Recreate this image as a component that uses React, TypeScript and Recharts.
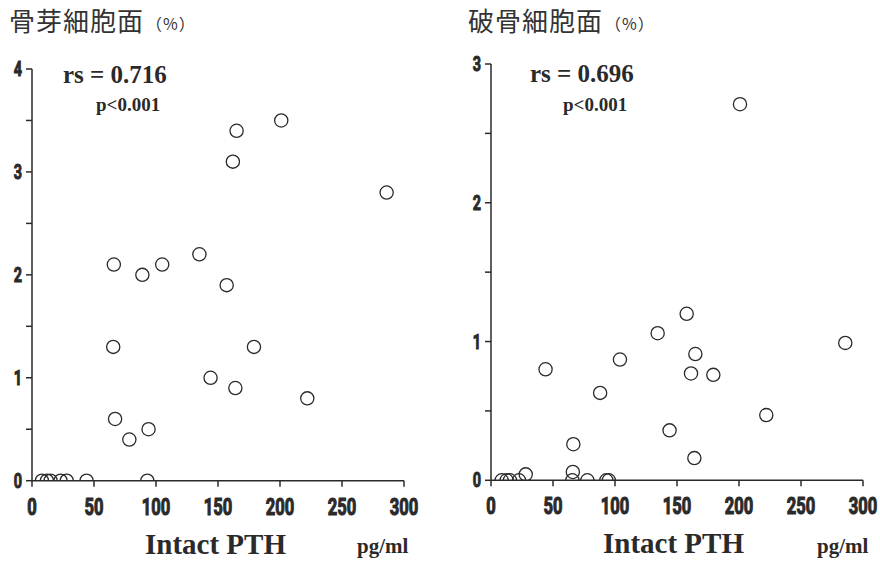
import React from "react";
import { ScatterChart, Scatter, XAxis, YAxis } from "recharts";

// Left panel: osteoblast surface (%) vs intact PTH (pg/ml)
const obX = [8, 12, 15, 23, 28, 44, 93, 66, 65.5, 67, 78.5, 94, 89, 105, 135, 157, 162, 165, 201, 286, 179, 144, 164, 222];
const obY = [0, 0, 0, 0, 0, 0, 0, 2.1, 1.3, 0.6, 0.4, 0.5, 2.0, 2.1, 2.2, 1.9, 3.1, 3.4, 3.5, 2.8, 1.3, 1.0, 0.9, 0.8];

// Right panel: osteoclast surface (%) vs intact PTH (pg/ml)
const ocX = [8.6, 12.6, 15.3, 22.6, 65.6, 77.7, 93, 95, 28, 66, 66.4, 88, 144, 164, 222, 44, 104, 134.4, 157.8, 164.8, 161.3, 179.3, 285.7, 200.8];
const ocY = [0, 0, 0, 0, 0, 0, 0, 0, 0.043, 0.06, 0.26, 0.63, 0.36, 0.16, 0.47, 0.8, 0.87, 1.06, 1.2, 0.91, 0.77, 0.76, 0.99, 2.71];

const xTicks = [0, 50, 100, 150, 200, 250, 300];
const obTicks = [0, 0.5, 1, 1.5, 2, 2.5, 3, 3.5, 4];
const ocTicks = [0, 0.5, 1, 1.5, 2, 2.5, 3];

const leftTitle = "骨芽細胞面";
const rightTitle = "破骨細胞面";
const pctLabel = "（%）";
const leftRs = "rs = 0.716";
const rightRs = "rs = 0.696";
const pLabel = "p<0.001";
const xLabel = "Intact PTH";
const unitLabel = "pg/ml";

const obData = obX.map((x, i) => ({ x, y: obY[i] }));
const ocData = ocX.map((x, i) => ({ x, y: ocY[i] }));

const INK = "#2a2a2a";
const tickFont = "Roboto, 'Liberation Sans', sans-serif";
const serif = "'Liberation Serif', 'DejaVu Serif', serif";
const cjk = "'Noto Sans CJK JP', sans-serif";

const Ring = (props: any) => (
  <circle cx={props.cx} cy={props.cy} r={6.6} fill="none" stroke={INK} strokeWidth={1.3} />
);

const XTick = (props: any) => {
  const { x, y, payload } = props;
  return (
    <text
      transform={`translate(${x},${y}) scale(0.72,1)`}
      x={0}
      y={0}
      dy={18}
      textAnchor="middle"
      fontFamily={tickFont}
      fontWeight={700}
      fontSize={23}
      fill={INK}
      stroke={INK}
      strokeWidth={1.1}
    >
      {payload.value}
    </text>
  );
};

const YTick = (props: any) => {
  const { x, y, payload } = props;
  const v = payload.value;
  if (!Number.isInteger(v)) return <g />;
  return (
    <text
      transform={`translate(${x},${y}) scale(0.72,1)`}
      x={0}
      y={0}
      dy={7}
      textAnchor="end"
      fontFamily={tickFont}
      fontWeight={700}
      fontSize={20}
      fill={INK}
      stroke={INK}
      strokeWidth={1}
    >
      {v}
    </text>
  );
};

function Panel({ data, yTicks, yMax, margin }: any) {
  return (
    <ScatterChart width={440} height={565} margin={margin}>
      <XAxis
        type="number"
        dataKey="x"
        domain={[0, 300]}
        ticks={xTicks}
        allowDataOverflow
        height={30}
        tickSize={6}
        tickMargin={10}
        stroke={INK}
        strokeWidth={1.5}
        tick={XTick}
      />
      <YAxis
        type="number"
        dataKey="y"
        domain={[0, yMax]}
        ticks={yTicks}
        allowDataOverflow
        width={30}
        tickSize={6}
        tickMargin={4}
        stroke={INK}
        strokeWidth={1.5}
        tick={YTick}
      />
      <Scatter data={data} shape={Ring} isAnimationActive={false} />
    </ScatterChart>
  );
}

export default function App() {
  return (
    <div style={{ position: "absolute", left: 0, top: 0, width: 880, height: 565, background: "#fff" }}>
      <div style={{ position: "absolute", left: 0, top: 0 }}>
        <Panel data={obData} yTicks={obTicks} yMax={4} margin={{ top: 69, right: 36, bottom: 54.3, left: 2 }} />
      </div>
      <div style={{ position: "absolute", left: 440, top: 0 }}>
        <Panel data={ocData} yTicks={ocTicks} yMax={3} margin={{ top: 64, right: 17, bottom: 54.7, left: 21 }} />
      </div>
      <svg width={880} height={565} style={{ position: "absolute", left: 0, top: 0, pointerEvents: "none" }}>
        <text x={9} y={31} fontFamily={cjk} fontSize={26} fill="#333" letterSpacing={1}>
          {leftTitle}
          <tspan fontSize={16} dx={2} dy={-1}>{pctLabel}</tspan>
        </text>
        <text x={468} y={31} fontFamily={cjk} fontSize={26} fill="#333" letterSpacing={1}>
          {rightTitle}
          <tspan fontSize={16} dx={2} dy={-1}>{pctLabel}</tspan>
        </text>
        <text x={63} y={83} fontFamily={serif} fontWeight={700} fontSize={25} fill={INK}>{leftRs}</text>
        <text x={96} y={111} fontFamily={serif} fontWeight={700} fontSize={19} fill={INK}>{pLabel}</text>
        <text x={530} y={82} fontFamily={serif} fontWeight={700} fontSize={25} fill={INK}>{rightRs}</text>
        <text x={563} y={111} fontFamily={serif} fontWeight={700} fontSize={19} fill={INK}>{pLabel}</text>
        <text x={145} y={554} fontFamily={serif} fontWeight={700} fontSize={29} fill={INK}>{xLabel}</text>
        <text x={357} y={553} fontFamily={serif} fontWeight={700} fontSize={21} fill={INK}>{unitLabel}</text>
        <text x={603} y={553} fontFamily={serif} fontWeight={700} fontSize={29} fill={INK}>{xLabel}</text>
        <text x={817} y={553} fontFamily={serif} fontWeight={700} fontSize={21} fill={INK}>{unitLabel}</text>
      </svg>
    </div>
  );
}
